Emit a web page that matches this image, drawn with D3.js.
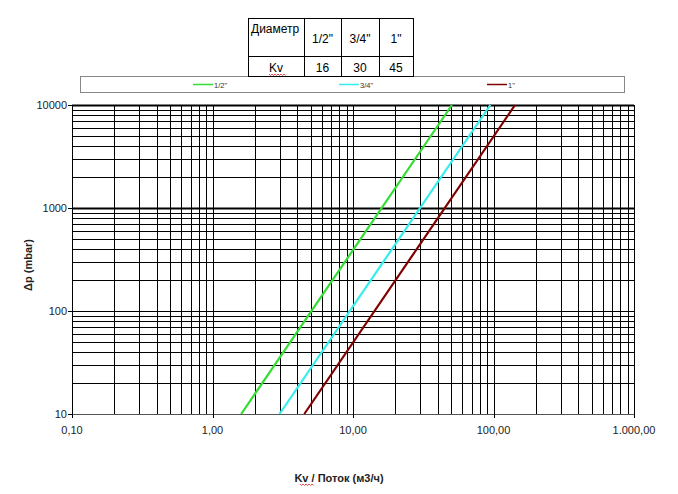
<!DOCTYPE html>
<html><head><meta charset="utf-8">
<script src="https://cdn.jsdelivr.net/npm/d3@7"></script>
<style>body{margin:0;background:#fff;}svg{display:block;font-family:"Liberation Sans",Arial,sans-serif;}</style>
</head><body>
<script>
// ---- data ----
const seriesNames = ["1/2\"", "3/4\"", "1\""];
const kvValues = [16, 30, 45];
const seriesColors = ["#33dd33", "#33eeee", "#800000"];
// read endpoints of each straight line (flow m3/h, Δp mbar)
const flowAtMin = [1.6, 3.0, 4.5];
const flowAtMax = [50.6, 94.9, 142.3];
const dpLimits = [10, 10000];
const xTickValues = [0.1, 1, 10, 100, 1000];
const xTickLabels = ["0,10", "1,00", "10,00", "100,00", "1.000,00"];
const yTickValues = [10, 100, 1000, 10000];
const yTickLabels = ["10", "100", "1000", "10000"];
const tableHeader = ["Диаметр"].concat(seriesNames);
const tableRowLabel = "Kv";

const W = 678, H = 494;
const svg = d3.select("body").append("svg").attr("width", W).attr("height", H);
const x = d3.scaleLog().domain([0.1, 1000]).range([72, 634]);
const y = d3.scaleLog().domain([10, 10000]).range([414, 105]);

// grid
const minorX = [];
for (let e = -1; e < 3; e++) for (let k = 1; k <= 9; k++) minorX.push(k * Math.pow(10, e));
minorX.push(1000);
const minorY = [];
for (let e = 1; e < 4; e++) for (let k = 1; k <= 9; k++) minorY.push(k * Math.pow(10, e));
minorY.push(10000);

const g = svg.append("g");
g.selectAll("line.gx").data(minorX).join("line")
  .attr("x1", d => Math.round(x(d)) + 0.5).attr("x2", d => Math.round(x(d)) + 0.5)
  .attr("y1", y(10000)).attr("y2", y(10)).attr("stroke", "#000").attr("stroke-width", 1);
g.selectAll("line.gy").data(minorY).join("line")
  .attr("y1", d => Math.round(y(d)) + 0.5).attr("y2", d => Math.round(y(d)) + 0.5)
  .attr("x1", x(0.1)).attr("x2", x(1000)).attr("stroke", "#000")
  .attr("stroke-width", d => (d === 1000 || d === 10000) ? 2.2 : 1);
// axis lines
g.append("line").attr("x1", x(0.1)).attr("x2", x(1000)).attr("y1", 414.5).attr("y2", 414.5).attr("stroke", "#555");
// tick marks
g.selectAll("line.ty").data(yTickValues).join("line")
  .attr("x1", x(0.1) - 4).attr("x2", x(0.1)).attr("y1", d => Math.round(y(d)) + 0.5).attr("y2", d => Math.round(y(d)) + 0.5).attr("stroke", "#000");
g.selectAll("line.tx").data(xTickValues).join("line")
  .attr("x1", d => Math.round(x(d)) + 0.5).attr("x2", d => Math.round(x(d)) + 0.5).attr("y1", 414).attr("y2", 418).attr("stroke", "#000");

// tick labels
svg.selectAll("text.yl").data(yTickValues).join("text")
  .attr("x", 67).attr("y", d => y(d) + 4).attr("text-anchor", "end")
  .attr("font-size", 11).attr("fill", "#222").text((d, i) => yTickLabels[i]);
svg.selectAll("text.xl").data(xTickValues).join("text")
  .attr("x", d => x(d)).attr("y", 434).attr("text-anchor", "middle")
  .attr("font-size", 11).attr("fill", "#222").text((d, i) => xTickLabels[i]);

// series lines
const lineGen = d3.line().x(d => x(d[0])).y(d => y(d[1]));
seriesNames.forEach((s, i) => {
  const pts = [[flowAtMin[i], dpLimits[0]], [flowAtMax[i], dpLimits[1]]];
  svg.append("path").attr("d", lineGen(pts)).attr("fill", "none")
    .attr("stroke", seriesColors[i]).attr("stroke-width", 2.2);
});

// axis titles
svg.append("text").attr("transform", "translate(32,265) rotate(-90)")
  .attr("text-anchor", "middle").attr("font-size", 11).attr("font-weight", "bold").attr("fill", "#222")
  .text("Δp (mbar)");
const xt = svg.append("text").attr("x", 339).attr("y", 482).attr("text-anchor", "middle")
  .attr("font-size", 11).attr("font-weight", "bold").attr("fill", "#222").text("Kv / Поток (м3/ч)");

function wavy(x0, x1, yy) {
  let d = `M${x0},${yy}`;
  for (let xx = x0, k = 0; xx < x1; xx += 1.5, k++) d += ` L${xx + 1.5},${yy + (k % 2 ? 0 : 1.5)}`;
  svg.append("path").attr("d", d).attr("fill", "none").attr("stroke", "#e02020").attr("stroke-width", 0.8);
}
wavy(300, 313, 484);

// legend
svg.append("rect").attr("x", 80.5).attr("y", 76.5).attr("width", 544).attr("height", 16)
  .attr("fill", "#fff").attr("stroke", "#888");
const legX = [193, 339, 487];
seriesNames.forEach((s, i) => {
  svg.append("line").attr("x1", legX[i]).attr("x2", legX[i] + 20).attr("y1", 84.5).attr("y2", 84.5)
    .attr("stroke", seriesColors[i]).attr("stroke-width", 1.5);
  svg.append("text").attr("x", legX[i] + 21).attr("y", 87.5).attr("font-size", 7.5).attr("fill", "#333").text(s);
});

// table
const colEdges = [248, 304, 341, 379, 413];
const rowEdges = [18, 56, 76];
const tg = svg.append("g");
tg.append("rect").attr("x", colEdges[0] + 0.5).attr("y", rowEdges[0] + 0.5)
  .attr("width", colEdges[4] - colEdges[0]).attr("height", rowEdges[2] - rowEdges[0])
  .attr("fill", "#fff").attr("stroke", "#000");
colEdges.slice(1, 4).forEach(c => tg.append("line").attr("x1", c + 0.5).attr("x2", c + 0.5)
  .attr("y1", rowEdges[0]).attr("y2", rowEdges[2]).attr("stroke", "#000"));
tg.append("line").attr("x1", colEdges[0]).attr("x2", colEdges[4]).attr("y1", rowEdges[1] + 0.5).attr("y2", rowEdges[1] + 0.5).attr("stroke", "#000");
tableHeader.forEach((t, i) => {
  if (i === 0) {
    tg.append("text").attr("x", colEdges[0] + 3).attr("y", 33).attr("font-size", 12).text(t);
  } else {
    tg.append("text").attr("x", (colEdges[i] + colEdges[i + 1]) / 2).attr("y", 43)
      .attr("text-anchor", "middle").attr("font-size", 12).text(t);
  }
});
tg.append("text").attr("x", (colEdges[0] + colEdges[1]) / 2).attr("y", 72)
  .attr("text-anchor", "middle").attr("font-size", 12).text(tableRowLabel);
kvValues.forEach((v, i) => {
  tg.append("text").attr("x", (colEdges[i + 1] + colEdges[i + 2]) / 2).attr("y", 72)
    .attr("text-anchor", "middle").attr("font-size", 12).text(v);
});
wavy(269, 285, 74);
</script>
</body></html>
